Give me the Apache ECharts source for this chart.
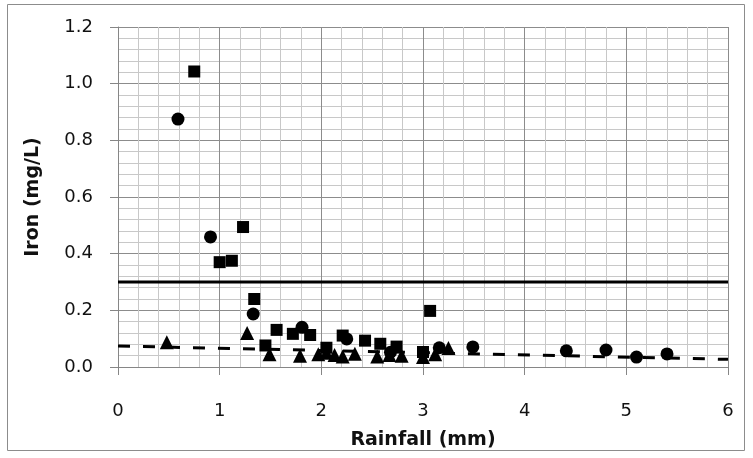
<!DOCTYPE html>
<html>
<head>
<meta charset="utf-8">
<script src="https://cdn.jsdelivr.net/npm/echarts@6/dist/echarts.min.js"></script>
<style>
  html, body { margin: 0; padding: 0; background: #fff; }
  #chart { width: 753px; height: 458px; }
</style>
</head>
<body>
<div id="chart"></div>
<script>
// rainfall (mm) vs iron (mg/L), three sample sets
const circlePoints = [
  [0.59, 0.875], [0.91, 0.459], [1.33, 0.187], [1.81, 0.14], [2.25, 0.099],
  [2.68, 0.052], [3.16, 0.068], [3.49, 0.071], [4.41, 0.057], [4.80, 0.060],
  [5.10, 0.035], [5.40, 0.046]
];
const squarePoints = [
  [0.75, 1.043], [1.0, 0.37], [1.12, 0.375], [1.23, 0.494], [1.34, 0.24],
  [1.45, 0.076], [1.56, 0.131], [1.72, 0.117], [1.89, 0.113], [2.05, 0.068],
  [2.21, 0.111], [2.43, 0.093], [2.58, 0.082], [2.74, 0.072], [3.0, 0.053],
  [3.07, 0.198]
];
const trianglePoints = [
  [0.48, 0.087], [1.27, 0.12], [1.49, 0.045], [1.79, 0.04], [1.97, 0.045],
  [2.05, 0.05], [2.13, 0.042], [2.21, 0.037], [2.33, 0.047], [2.55, 0.037],
  [2.67, 0.042], [2.79, 0.04], [3.0, 0.035], [3.12, 0.045], [3.25, 0.067]
];
// guideline limit and trend line ends
const limitLine = [[0, 0.3], [6, 0.3]];
const trendLine = [[0, 0.074], [6, 0.027]];

const labelFont = '"DejaVu Sans", sans-serif';

const chart = echarts.init(document.getElementById("chart"));
chart.setOption({
  animation: false,
  grid: { left: 118, right: 25, top: 27, bottom: 91 },
  graphic: [{
    type: "rect",
    shape: { x: 7.5, y: 4.5, width: 737, height: 446 },
    style: { fill: "none", stroke: "#8c8c8c", lineWidth: 1 },
    silent: true
  }],
  xAxis: {
    type: "value",
    min: 0, max: 6, interval: 1,
    name: "Rainfall (mm)",
    nameLocation: "middle",
    nameGap: 64,
    nameTextStyle: { fontFamily: labelFont, fontWeight: "bold", fontSize: 19, color: "#111" },
    axisLine: { show: true, onZero: false, lineStyle: { color: "#868686", width: 1 } },
    axisTick: { show: true, inside: false, length: 8, lineStyle: { color: "#868686" } },
    axisLabel: { fontFamily: labelFont, fontSize: 18, color: "#111", margin: 35 },
    splitLine: { show: true, lineStyle: { color: "#8c8c8c", width: 1 } },
    minorTick: { show: false, splitNumber: 5 },
    minorSplitLine: { show: true, lineStyle: { color: "#c8c8c8", width: 1 } }
  },
  yAxis: {
    type: "value",
    min: 0, max: 1.2, interval: 0.2,
    name: "Iron (mg/L)",
    nameLocation: "middle",
    nameGap: 75,
    nameRotate: 90,
    nameTextStyle: { fontFamily: labelFont, fontWeight: "bold", fontSize: 19, color: "#111" },
    axisLine: { show: true, lineStyle: { color: "#868686", width: 1 } },
    axisTick: { show: true, inside: false, length: 8, lineStyle: { color: "#868686" } },
    axisLabel: {
      fontFamily: labelFont, fontSize: 18, color: "#111", margin: 25,
      formatter: v => v.toFixed(1)
    },
    splitLine: { show: true, lineStyle: { color: "#8c8c8c", width: 1 } },
    minorTick: { show: false, splitNumber: 5 },
    minorSplitLine: { show: true, lineStyle: { color: "#c8c8c8", width: 1 } }
  },
  series: [
    {
      type: "line",
      data: limitLine,
      symbol: "none",
      lineStyle: { color: "#000", width: 3 },
      z: 3
    },
    {
      type: "line",
      data: trendLine,
      symbol: "none",
      lineStyle: { color: "#000", width: 3, type: [12, 13] },
      z: 3
    },
    {
      type: "scatter",
      data: circlePoints,
      symbol: "circle",
      symbolSize: 13,
      itemStyle: { color: "#000", opacity: 1 },
      z: 4
    },
    {
      type: "scatter",
      data: squarePoints,
      symbol: "rect",
      symbolSize: 12,
      itemStyle: { color: "#000", opacity: 1 },
      z: 4
    },
    {
      type: "scatter",
      data: trianglePoints,
      symbol: "triangle",
      symbolSize: 14,
      itemStyle: { color: "#000", opacity: 1 },
      z: 4
    }
  ]
});
</script>
</body>
</html>
